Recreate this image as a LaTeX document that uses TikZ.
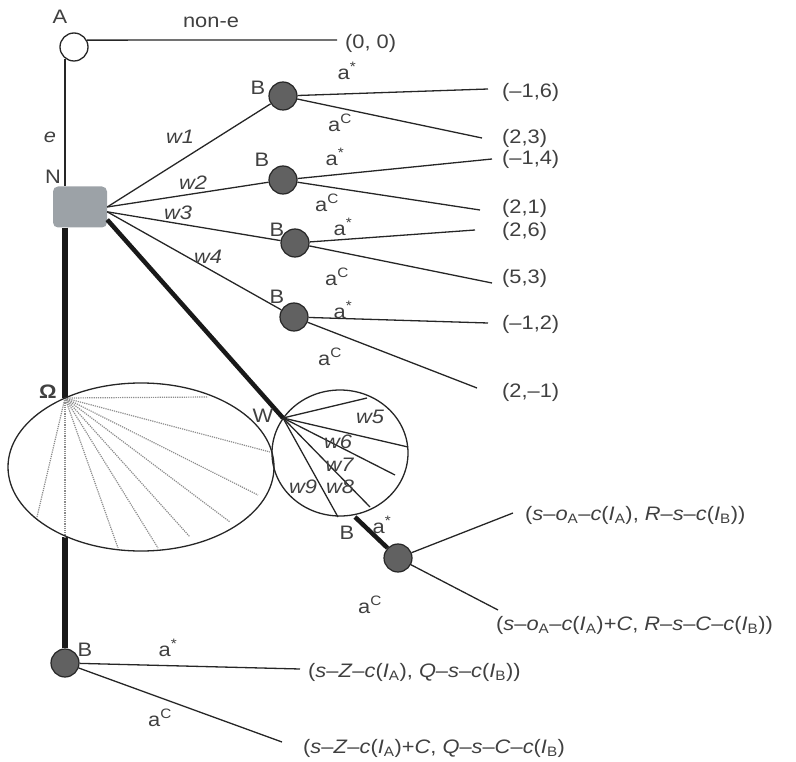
\documentclass[tikz,border=0pt]{standalone}
\usepackage{fontspec}
\setmainfont{Liberation Sans}[FakeStretch=1.12]
\definecolor{boxgray}{RGB}{156,162,167}
\newcommand{\iv}[1]{\textit{#1}}
\newcommand{\astar}{a\textsuperscript{*}}
\newcommand{\acomp}{a\textsuperscript{C}}

\begin{document}
\begin{tikzpicture}[x=1pt, y=-1pt,
  lbl/.style={text=black!75, font=\fontsize{19.5}{22}\selectfont, inner sep=0pt},
  leaf/.style={lbl, anchor=west},
  bnode/.style={circle, draw=black!85, fill=black!62, line width=1.2pt, minimum size=28pt, inner sep=0pt},
  anode/.style={circle, draw=black!85, fill=white, line width=1.3pt, minimum size=28pt, inner sep=0pt},
  nbox/.style={rectangle, rounded corners=5pt, fill=boxgray, minimum width=54pt, minimum height=41pt, inner sep=0pt},
  br/.style={line width=1.3pt, black!85},
  heavy/.style={line width=#1, black!90},
  fan/.style={densely dotted, black!45, line width=1.2pt}]
  \useasboundingbox (0,0) rectangle (796,762);

  \node[anode] (A) at (74,47) {};
  \node[nbox] (N) at (80,207) {};
  \node[bnode] (B1) at (283,96) {};
  \node[bnode] (B2) at (283,180) {};
  \node[bnode] (B3) at (295,243) {};
  \node[bnode] (B4) at (294,317) {};
  \node[bnode] (Bw) at (398,558) {};
  \node[bnode] (Bo) at (65,663) {};
  \coordinate (om) at (65,398);
  \coordinate (ombot) at (65,537);
  \coordinate (W) at (283,418);
  \coordinate (wb) at (355,517);

  \coordinate (l0) at (337,40);
  \coordinate (l1) at (488,89);
  \coordinate (l2) at (482,138);
  \coordinate (l3) at (492,159);
  \coordinate (l4) at (480,210);
  \coordinate (l5) at (475,230);
  \coordinate (l6) at (492,283);
  \coordinate (l7) at (488,323);
  \coordinate (l8) at (477,388);
  \coordinate (pw1) at (513,513);
  \coordinate (pw2) at (498,610);
  \coordinate (po1) at (300,669);
  \coordinate (po2) at (282,742);

  \draw[br] (A.28) -- (l0);
  \draw[br] (A.232) -- (A.232 |- N.north);
  \draw[heavy=5.5pt] (N.south -| om) -- (om);
  \draw[heavy=5.5pt] (ombot) -- (Bo);
  \draw[br] (N.east) -- (B1);
  \draw[br] (N.east) -- (B2);
  \draw[br] (N.-10) -- (B3);
  \draw[br] (N.-10) -- (B4);
  \draw[heavy=4.5pt] (N.-25) -- (W);
  \draw[heavy=4.5pt] (wb) -- (Bw);
  \draw[br] (B1) -- (l1);
  \draw[br] (B1) -- (l2);
  \draw[br] (B2) -- (l3);
  \draw[br] (B2) -- (l4);
  \draw[br] (B3) -- (l5);
  \draw[br] (B3) -- (l6);
  \draw[br] (B4) -- (l7);
  \draw[br] (B4) -- (l8);
  \draw[br] (Bw) -- (pw1);
  \draw[br] (Bw) -- (pw2);
  \draw[br] (Bo) -- (po1);
  \draw[br] (Bo) -- (po2);

  \foreach \x/\y in {208/397, 270/452, 258/495, 230/522, 190/537, 158/548, 118/548, 65/537, 37/517}
    \draw[fan] (om) -- (\x,\y);
  \draw[br] (141,467) ellipse (133pt and 84pt);
  \draw[br] (340,453) ellipse (68pt and 63pt);
  \foreach \x/\y in {367/398, 408/447, 395/475, 370/507, 338/517}
    \draw[br] (W) -- (\x,\y);

  \node[lbl] (tA) at (60,17) {A};
  \node[lbl] (tnon) at (211,22) {non-e};
  \node[lbl] (te) at (50,137) {\iv{e}};
  \node[lbl] (tN) at (53,177) {N};
  \node[lbl] (tom) at (48,392) {\textbf{Ω}};
  \node[lbl] (tW) at (263,416) {W};
  \node[lbl] (tB1) at (258,88) {B};
  \node[lbl] (tB2) at (262,160) {B};
  \node[lbl] (tB3) at (277,230) {B};
  \node[lbl] (tB4) at (277,297) {B};
  \node[lbl] (tBw) at (347,533) {B};
  \node[lbl] (tBo) at (85,650) {B};

  \node[lbl] (w1) at (180,137) {\iv{w1}};
  \node[lbl] (w2) at (193,183) {\iv{w2}};
  \node[lbl] (w3) at (178,213) {\iv{w3}};
  \node[lbl] (w4) at (208,257) {\iv{w4}};
  \node[lbl] (w5) at (370,417) {\iv{w5}};
  \node[lbl] (w6) at (338,442) {\iv{w6}};
  \node[lbl] (w7) at (340,465) {\iv{w7}};
  \node[lbl] (w8) at (340,487) {\iv{w8}};
  \node[lbl] (w9) at (303,487) {\iv{w9}};

  \node[lbl] (s1) at (347,71) {\astar};
  \node[lbl] (c1) at (340,123) {\acomp};
  \node[lbl] (s2) at (335,157) {\astar};
  \node[lbl] (c2) at (327,203) {\acomp};
  \node[lbl] (s3) at (343,227) {\astar};
  \node[lbl] (c3) at (337,277) {\acomp};
  \node[lbl] (s4) at (343,310) {\astar};
  \node[lbl] (c4) at (330,357) {\acomp};
  \node[lbl] (sw) at (382,525) {\astar};
  \node[lbl] (cw) at (370,605) {\acomp};
  \node[lbl] (so) at (168,648) {\astar};
  \node[lbl] (co) at (160,718) {\acomp};

  \node[leaf] (p0) at (345,43) {(0, 0)};
  \node[leaf] (p1) at (502,92) {(–1,6)};
  \node[leaf] (p2) at (502,138) {(2,3)};
  \node[leaf] (p3) at (502,159) {(–1,4)};
  \node[leaf] (p4) at (502,208) {(2,1)};
  \node[leaf] (p5) at (502,231) {(2,6)};
  \node[leaf] (p6) at (502,278) {(5,3)};
  \node[leaf] (p7) at (502,324) {(–1,2)};
  \node[leaf] (p8) at (502,392) {(2,–1)};
  \node[leaf] (pw1t) at (525,515) {(\iv{s}–\iv{o}\textsubscript{A}–\iv{c}(\iv{I}\textsubscript{A}), \iv{R}–\iv{s}–\iv{c}(\iv{I}\textsubscript{B}))};
  \node[leaf] (pw2t) at (496,625) {(\iv{s}–\iv{o}\textsubscript{A}–\iv{c}(\iv{I}\textsubscript{A})+\iv{C}, \iv{R}–\iv{s}–\iv{C}–\iv{c}(\iv{I}\textsubscript{B}))};
  \node[leaf] (po1t) at (308,672) {(\iv{s}–\iv{Z}–\iv{c}(\iv{I}\textsubscript{A}), \iv{Q}–\iv{s}–\iv{c}(\iv{I}\textsubscript{B}))};
  \node[leaf] (po2t) at (303,748) {(\iv{s}–\iv{Z}–\iv{c}(\iv{I}\textsubscript{A})+\iv{C}, \iv{Q}–\iv{s}–\iv{C}–\iv{c}(\iv{I}\textsubscript{B})};
\end{tikzpicture}
\end{document}
